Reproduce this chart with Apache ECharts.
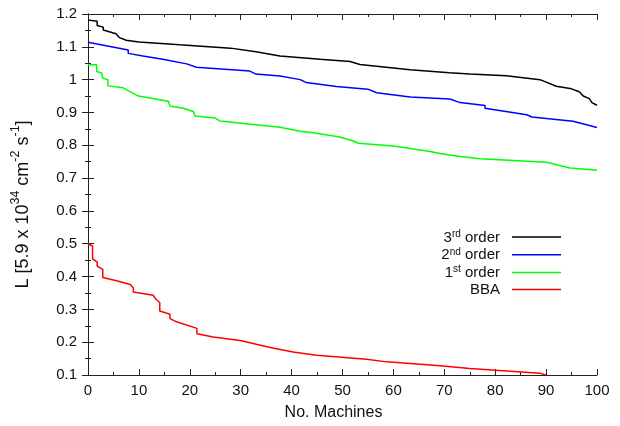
<!DOCTYPE html>
<html>
<head>
<meta charset="utf-8">
<script src="https://cdn.jsdelivr.net/npm/echarts@6/dist/echarts.min.js"></script>
<style>
  html, body { margin: 0; padding: 0; background: #fff; }
  #chart { width: 620px; height: 426px; }
</style>
</head>
<body>
<div id="chart"></div>
<script>
// luminosity vs number of machines as [machines, L]
const order3 = [[0,1.182],[1.8,1.178],[1.8,1.165],[3,1.16],[3,1.151],[5.5,1.14],[6.2,1.128],[7.5,1.12],[10,1.115],[18,1.106],[28,1.096],[33,1.085],[37.7,1.072],[45.6,1.062],[51.5,1.055],[53.4,1.046],[63.3,1.03],[71,1.021],[75,1.017],[82.2,1.012],[88.8,1.0],[92,0.98],[95,0.972],[96.5,0.963],[97.3,0.95],[98.5,0.942],[99,0.93],[100,0.922]]
const order2 = [[0,1.114],[7.9,1.09],[7.9,1.08],[10.8,1.072],[14.7,1.062],[19.4,1.048],[21.3,1.038],[31.8,1.026],[33,1.017],[37.7,1.011],[41.7,1.0],[42.9,0.991],[48.8,0.979],[55,0.971],[56.7,0.96],[63.3,0.947],[71.1,0.941],[73.1,0.93],[78,0.921],[78,0.913],[86.2,0.893],[87.2,0.886],[95.3,0.873],[100,0.854]]
const order1 = [[0,1.045],[1.7,1.045],[1.7,1.025],[2.7,1.02],[2.9,1.004],[3.9,1.0],[3.9,0.981],[6.9,0.975],[9.9,0.95],[15.8,0.934],[16.1,0.92],[18.7,0.913],[20.7,0.903],[21,0.889],[25,0.883],[25.9,0.874],[37.7,0.855],[41.7,0.843],[44.2,0.838],[49.5,0.825],[52.1,0.813],[53.1,0.806],[60,0.798],[67.2,0.781],[69.2,0.775],[72.4,0.767],[77,0.759],[90.1,0.748],[94.7,0.731],[100,0.724]]
const bba = [[0,0.5],[0.9,0.493],[0.9,0.454],[1.8,0.444],[1.8,0.432],[2.9,0.422],[2.9,0.397],[5.6,0.387],[8.3,0.376],[8.9,0.366],[8.9,0.353],[12.8,0.343],[13.4,0.33],[14.1,0.321],[14.1,0.295],[16.1,0.285],[16.1,0.272],[17.4,0.262],[21.4,0.242],[21.4,0.226],[24.6,0.216],[29.9,0.205],[35.8,0.184],[40.3,0.17],[44.9,0.16],[54.7,0.148],[58.7,0.14],[69.2,0.128],[75,0.12],[88.8,0.105],[90,0.1]]

const seriesNames = ['3rd order', '2nd order', '1st order', 'BBA']
const seriesData = [order3, order2, order1, bba]
const seriesColors = ['#000000', '#0000ff', '#00ff00', '#ff0000']
// legend text with superscripts
const legendText = {
  '3rd order': '{n|3}{s|rd}{n| order}',
  '2nd order': '{n|2}{s|nd}{n| order}',
  '1st order': '{n|1}{s|st}{n| order}',
  'BBA': '{n|BBA}'
}

const font = 'Liberation Sans, Arial, Helvetica, sans-serif'
const chart = echarts.init(document.getElementById('chart'))

// gnuplot style: ticks inside, mirrored on all four sides
function axisBase(extra) {
  return Object.assign({
    type: 'value',
    axisLine: { show: true, lineStyle: { color: '#222', width: 1 } },
    axisTick: { show: true, inside: true, length: 6, lineStyle: { color: '#222' } },
    minorTick: { show: true, splitNumber: 2, length: 3, lineStyle: { color: '#222' } },
    splitLine: { show: false },
    axisLabel: { show: false }
  }, extra)
}

const labelStyle = { fontFamily: font, fontSize: 15, color: '#111' }

chart.setOption({
  animation: false,
  backgroundColor: '#fff',
  grid: { left: 88, right: 23, top: 14, bottom: 50 },
  xAxis: [
    axisBase({
      min: 0, max: 100, interval: 10, position: 'bottom',
      axisLabel: Object.assign({ show: true, margin: 8 }, labelStyle),
      name: 'No. Machines',
      nameLocation: 'middle',
      nameGap: 30,
      nameTextStyle: { fontFamily: font, fontSize: 16, color: '#111', padding: [0, 18, 0, 0] }
    }),
    axisBase({ min: 0, max: 100, interval: 10, position: 'top' })
  ],
  yAxis: [
    axisBase({
      min: 0.1, max: 1.2, interval: 0.1, position: 'left',
      axisLabel: Object.assign({ show: true, margin: 11, formatter: v => String(+v.toFixed(2)) }, labelStyle),
      name: '{n|L [5.9 x 10}{s|34}{n| cm}{s|-2}{n| s}{s|-1}{n|]}',
      nameLocation: 'middle',
      nameRotate: 90,
      nameGap: 56,
      nameTextStyle: {
        padding: [0, 20, 0, 0],
        rich: {
          n: { fontFamily: font, fontSize: 18, color: '#111', lineHeight: 23, verticalAlign: 'bottom' },
          s: { fontFamily: font, fontSize: 12.5, color: '#111', lineHeight: 23, verticalAlign: 'top' }
        }
      }
    }),
    axisBase({ min: 0.1, max: 1.2, interval: 0.1, position: 'right' })
  ],
  legend: {
    orient: 'vertical',
    align: 'right',
    right: 54,
    top: 224,
    icon: 'rect',
    itemWidth: 49,
    itemHeight: 1.5,
    itemGap: 1.8,
    data: seriesNames,
    formatter: name => legendText[name],
    textStyle: {
      padding: [0, 7, 0, 0],
      rich: {
        n: { fontFamily: font, fontSize: 15, color: '#111', lineHeight: 16, verticalAlign: 'bottom' },
        s: { fontFamily: font, fontSize: 10, color: '#111', lineHeight: 16, verticalAlign: 'top' }
      }
    }
  },
  series: seriesNames.map((name, i) => ({
    name: name,
    type: 'line',
    xAxisIndex: 0,
    yAxisIndex: 0,
    symbol: 'none',
    data: seriesData[i],
    itemStyle: { color: seriesColors[i] },
    lineStyle: { color: seriesColors[i], width: 1.5 }
  }))
})
</script>
</body>
</html>
